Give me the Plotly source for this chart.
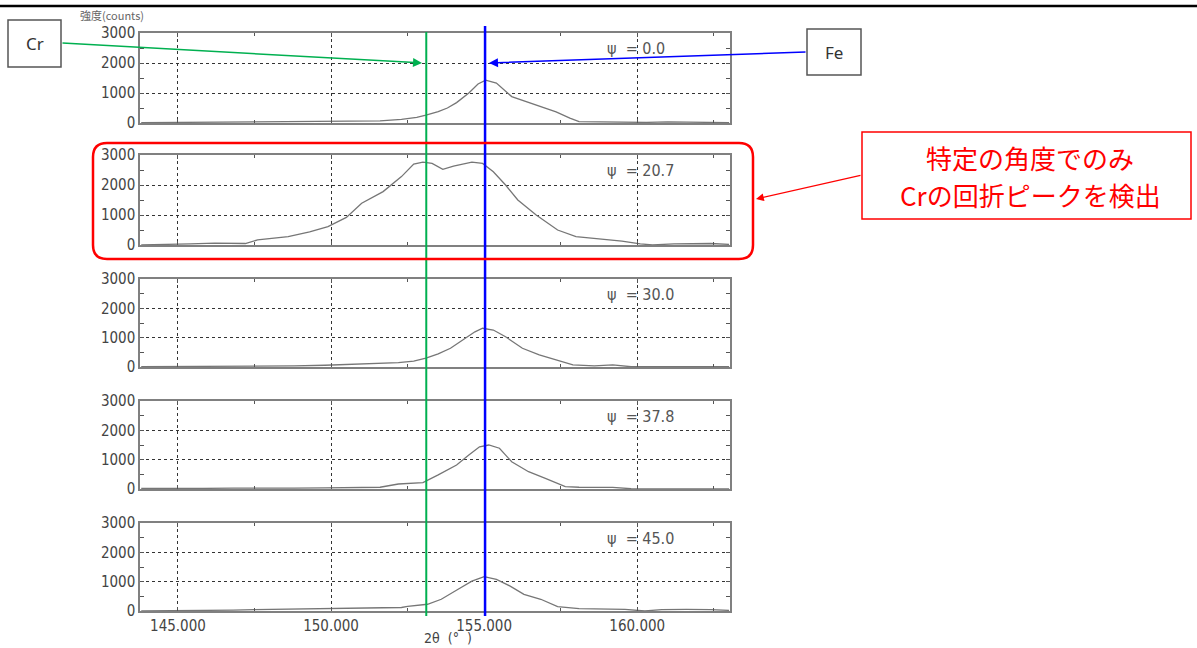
import plotly.graph_objects as go

W, H = 1197, 648

# ---------------- data ----------------
psi_labels = ["0.0", "20.7", "30.0", "37.8", "45.0"]

tt_psi00 = [143.8, 144.5, 145.5, 146.5, 147.4, 148.3, 149.2, 150.0, 150.8, 151.6, 152.3, 152.8, 153.1,
            153.5, 153.8, 154.1, 154.5, 154.8, 155.05, 155.4, 155.9, 156.4, 156.9, 157.35, 157.8, 158.1,
            158.8, 159.5, 160.3, 161.0, 161.8, 162.5, 163.0]
cnt_psi00 = [10, 15, 20, 25, 45, 30, 35, 50, 55, 70, 120, 190, 260,
             380, 500, 680, 1000, 1300, 1430, 1330, 880, 700, 520, 370, 160, 45,
             35, 30, 20, 40, 25, 15, 10]

tt_psi207 = [143.8, 144.6, 145.4, 146.2, 147.2, 147.6, 148.6, 149.3, 149.9, 150.5, 151.0, 151.7, 152.3,
             152.7, 153.0, 153.3, 153.65, 154.0, 154.6, 154.95, 155.3, 155.7, 156.1, 156.7, 157.4, 158.0,
             158.8, 159.5, 160.1, 160.5, 161.2, 162.4, 163.0]
cnt_psi207 = [0, 10, 40, 60, 50, 170, 280, 440, 610, 920, 1390, 1780, 2280,
              2700, 2760, 2720, 2520, 2630, 2760, 2720, 2440, 2000, 1500, 1000, 500, 280,
              200, 130, 40, 0, 40, 50, 20]

tt_psi300 = [143.8, 144.8, 145.8, 146.8, 147.8, 148.8, 149.8, 150.7, 151.6, 152.2, 152.7, 153.1, 153.5,
             153.9, 154.3, 154.7, 154.95, 155.3, 155.7, 156.25, 156.8, 157.35, 157.9, 158.6, 159.2, 159.8,
             160.5, 161.4, 162.2, 163.0]
cnt_psi300 = [10, 15, 10, 20, 30, 40, 60, 90, 126, 150, 200, 300, 450,
              640, 920, 1200, 1320, 1260, 1030, 640, 410, 240, 70, 35, 70, 10,
              15, 10, 20, 10]

tt_psi378 = [143.8, 144.8, 145.8, 146.8, 147.8, 148.8, 149.8, 150.7, 151.6, 152.2, 153.0, 153.5, 154.1,
             154.5, 154.85, 155.15, 155.5, 155.9, 156.45, 157.0, 157.65, 158.1, 158.8, 159.2, 159.8, 160.6,
             161.5, 162.3, 163.0]
cnt_psi378 = [20, 10, 20, 30, 20, 30, 40, 50, 60, 170, 220, 480, 820,
              1160, 1440, 1500, 1390, 930, 590, 365, 80, 60, 60, 55, 10, 10,
              20, 10, 0]

tt_psi450 = [143.8, 145.0, 146.1, 146.8, 147.5, 148.6, 149.8, 150.8, 151.7, 152.3, 152.5, 153.15, 153.6,
             154.15, 154.6, 155.0, 155.4, 155.85, 156.3, 156.85, 157.4, 158.1, 158.9, 159.6, 160.25, 160.8,
             161.6, 162.4, 163.0]
cnt_psi450 = [0, 5, 10, 30, 50, 60, 80, 100, 110, 120, 155, 230, 400,
              740, 1020, 1170, 1080, 850, 570, 400, 150, 80, 60, 55, 0, 50,
              55, 50, 20]

series_tt = [tt_psi00, tt_psi207, tt_psi300, tt_psi378, tt_psi450]
series_cnt = [cnt_psi00, cnt_psi207, cnt_psi300, cnt_psi378, cnt_psi450]

x_ticks = [145, 150, 155, 160]
y_ticks = [0, 1000, 2000, 3000]
cr_peak = 153.11
fe_peak = 155.03

# ---------------- layout helpers ----------------
def X(px):
    return px / W

def Y(py):
    return 1 - py / H

panel_px = [(33, 123), (155, 245), (279, 367), (401, 489), (523, 611)]
x_left, x_right = 140, 730

tick_font = dict(family="Liberation Sans Narrow, DejaVu Sans Condensed, Arial Narrow, sans-serif",
                 size=15, color="#444444")

fig = go.Figure()
layout = dict(width=W, height=H, margin=dict(l=0, r=0, t=0, b=0, pad=0), autosize=False,
              paper_bgcolor="white", plot_bgcolor="white", showlegend=False)

for i in range(5):
    n = i + 1
    xa = "x" if n == 1 else f"x{n}"
    ya = "y" if n == 1 else f"y{n}"
    fig.add_trace(go.Scatter(x=series_tt[i], y=series_cnt[i], mode="lines",
                             line=dict(color="#767676", width=1.3),
                             xaxis=xa, yaxis=ya, hoverinfo="skip"))
    top, bot = panel_px[i]
    layout[f"xaxis{n}"] = dict(
        domain=[X(x_left), X(x_right)], range=[143.76, 163.03], anchor=ya, automargin=False,
        tickvals=x_ticks, tickformat=".3f", showticklabels=(n == 5),
        tickfont=tick_font, showgrid=True, gridcolor="#333333", griddash="3px,3px", gridwidth=1,
        showline=True, linecolor="#808080", linewidth=1.5, mirror="ticks",
        ticks="inside", ticklen=4, tickcolor="#555555", zeroline=False,
        minor=dict(dtick=2.5, tick0=145, ticks="inside", ticklen=3, tickcolor="#555555", showgrid=False),
    )
    layout[f"yaxis{n}"] = dict(
        domain=[Y(bot), Y(top)], range=[0, 3000], anchor=xa, automargin=False,
        tickvals=y_ticks, tickfont=tick_font, showgrid=True, gridcolor="#333333",
        griddash="3px,3px", gridwidth=1,
        showline=True, linecolor="#808080", linewidth=1.5, mirror="ticks",
        ticks="inside", ticklen=4, tickcolor="#555555", zeroline=False,
        minor=dict(dtick=500, ticks="inside", ticklen=4, tickcolor="#555555", showgrid=False),
    )

fig.update_layout(**layout)

shapes = []
# top black rule
shapes.append(dict(type="line", xref="paper", yref="paper", x0=0, x1=1, y0=Y(6), y1=Y(6),
                   line=dict(color="black", width=2.5)))
# Cr / Fe peak lines
shapes.append(dict(type="line", xref="x5", yref="paper", x0=cr_peak, x1=cr_peak, y0=Y(616), y1=Y(32),
                   line=dict(color="#00B050", width=2)))
shapes.append(dict(type="line", xref="x5", yref="paper", x0=fe_peak, x1=fe_peak, y0=Y(616), y1=Y(26),
                   line=dict(color="#0000FF", width=2.5)))

# red rounded rectangle around psi=20.7 panel
x0, x1, y0, y1, r = 93, 753, 143, 259, 14
path = (f"M {X(x0+r)},{Y(y0)} L {X(x1-r)},{Y(y0)} Q {X(x1)},{Y(y0)} {X(x1)},{Y(y0+r)} "
        f"L {X(x1)},{Y(y1-r)} Q {X(x1)},{Y(y1)} {X(x1-r)},{Y(y1)} "
        f"L {X(x0+r)},{Y(y1)} Q {X(x0)},{Y(y1)} {X(x0)},{Y(y1-r)} "
        f"L {X(x0)},{Y(y0+r)} Q {X(x0)},{Y(y0)} {X(x0+r)},{Y(y0)} Z")
shapes.append(dict(type="path", xref="paper", yref="paper", path=path,
                   line=dict(color="#FF0000", width=2.5)))

# label boxes
shapes.append(dict(type="rect", xref="paper", yref="paper", x0=X(8), x1=X(61), y0=Y(67), y1=Y(20),
                   line=dict(color="#555555", width=1.5), fillcolor="white"))
shapes.append(dict(type="rect", xref="paper", yref="paper", x0=X(807), x1=X(861), y0=Y(75), y1=Y(29),
                   line=dict(color="#555555", width=1.5), fillcolor="white"))
shapes.append(dict(type="rect", xref="paper", yref="paper", x0=X(862), x1=X(1191), y0=Y(219), y1=Y(132),
                   line=dict(color="#FF0000", width=1.5), fillcolor="white"))
fig.update_layout(shapes=shapes)

ann = []
def text_ann(x, y, text, font, xanchor="center"):
    return dict(xref="paper", yref="paper", x=X(x), y=Y(y), xanchor=xanchor, yanchor="middle",
                text=text, showarrow=False, font=font)

# psi labels
psi_font = dict(family="Liberation Sans Narrow, DejaVu Sans Condensed, sans-serif", size=16, color="#555555")
for i, lab in enumerate(psi_labels):
    top, _ = panel_px[i]
    ann.append(text_ann(605, top + 15, "ψ\u00a0\u00a0=\u00a0" + lab, psi_font, xanchor="left"))
# axis titles
ann.append(text_ann(78, 15, "強度(counts)",
                    dict(family="Noto Sans CJK JP, sans-serif", size=11, color="#666666"), xanchor="left"))
ann.append(text_ann(448, 638, "2θ\u00a0\u00a0(°\u00a0\u00a0)",
                    dict(family="DejaVu Sans Condensed, DejaVu Sans, sans-serif", size=14, color="#444444")))
# box labels
box_font = dict(family="Noto Sans, sans-serif", size=17, color="#333333")
ann.append(text_ann(34.5, 44, "Cr", box_font))
ann.append(text_ann(834, 52, "Fe", box_font))
red_font = dict(family="Noto Sans CJK JP, sans-serif", size=26, color="#FF0000")
ann.append(text_ann(1030, 158, "特定の角度でのみ", red_font))
ann.append(text_ann(1030, 194, "Crの回折ピークを検出", red_font))

# arrows
def arrow(hx, hy, tx, ty, color, width=1.5):
    return dict(xref="paper", yref="paper", x=X(hx), y=Y(hy), ax=tx - hx, ay=ty - hy,
                axref="pixel", ayref="pixel", text="", showarrow=True, arrowhead=2, arrowsize=1.2,
                arrowwidth=width, arrowcolor=color, standoff=0)

ann.append(arrow(422, 63, 61, 43, "#00B050"))
ann.append(arrow(489, 63, 807, 52, "#0000FF"))
ann.append(arrow(756, 199, 862, 175, "#FF0000", 1.3))
fig.update_layout(annotations=ann)

fig.write_html("out.html", config={"displayModeBar": False},
               post_script="document.body.style.margin='0';document.body.style.overflow='hidden';")
